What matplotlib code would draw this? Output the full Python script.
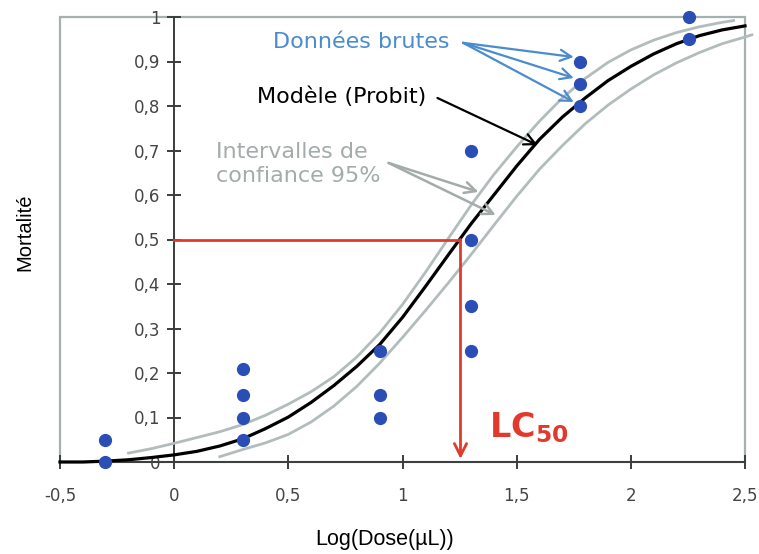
import matplotlib
matplotlib.use("Agg")
import matplotlib.pyplot as plt
from matplotlib.patches import Rectangle

# Observed mortality per log10 dose
log_dose = [-0.301, -0.301, 0.301, 0.301, 0.301, 0.301, 0.903, 0.903, 0.903,
            1.301, 1.301, 1.301, 1.301, 1.778, 1.778, 1.778, 2.255, 2.255]
mortality = [0.05, 0.00, 0.21, 0.15, 0.10, 0.05, 0.25, 0.15, 0.10,
             0.70, 0.50, 0.35, 0.25, 0.90, 0.85, 0.80, 1.00, 0.95]

# Probit model curve
model_x = [-0.5, -0.4, -0.3, -0.2, -0.1, 0.0, 0.1, 0.2, 0.3, 0.4, 0.5, 0.6, 0.7,
           0.8, 0.9, 1.0, 1.1, 1.2, 1.3, 1.4, 1.5, 1.6, 1.7, 1.8, 1.9, 2.0, 2.1,
           2.2, 2.3, 2.4, 2.5]
model_y = [0.000, 0.000, 0.002, 0.005, 0.010, 0.016, 0.024, 0.036, 0.052, 0.075,
           0.101, 0.134, 0.172, 0.215, 0.264, 0.325, 0.394, 0.465, 0.535, 0.600,
           0.665, 0.725, 0.775, 0.818, 0.857, 0.889, 0.917, 0.940, 0.958, 0.971,
           0.980]

# 95% confidence bounds
upper_x = [-0.2, -0.1, 0.0, 0.1, 0.2, 0.3, 0.4, 0.5, 0.6, 0.7, 0.8, 0.9, 1.0, 1.1,
           1.2, 1.3, 1.4, 1.5, 1.6, 1.7, 1.8, 1.9, 2.0, 2.1, 2.2, 2.3, 2.4, 2.45]
upper_y = [0.020, 0.030, 0.042, 0.055, 0.068, 0.084, 0.105, 0.130, 0.158, 0.192,
           0.236, 0.290, 0.354, 0.426, 0.502, 0.577, 0.646, 0.708, 0.766, 0.818,
           0.862, 0.898, 0.926, 0.948, 0.965, 0.978, 0.988, 0.992]
lower_x = [0.2, 0.3, 0.4, 0.5, 0.6, 0.7, 0.8, 0.9, 1.0, 1.1, 1.2, 1.3, 1.4, 1.5,
           1.6, 1.7, 1.8, 1.9, 2.0, 2.1, 2.2, 2.3, 2.4, 2.5, 2.53]
lower_y = [0.012, 0.028, 0.043, 0.062, 0.090, 0.126, 0.170, 0.222, 0.280, 0.340,
           0.402, 0.466, 0.532, 0.597, 0.658, 0.711, 0.760, 0.802, 0.838, 0.870,
           0.897, 0.920, 0.940, 0.955, 0.960]

lc50 = 1.254

x_ticks = [-0.5, 0.0, 0.5, 1.0, 1.5, 2.0, 2.5]
x_tick_labels = ["-0,5", "0", "0,5", "1", "1,5", "2", "2,5"]
y_ticks = [0.0, 0.1, 0.2, 0.3, 0.4, 0.5, 0.6, 0.7, 0.8, 0.9, 1.0]
y_tick_labels = ["0", "0,1", "0,2", "0,3", "0,4", "0,5", "0,6", "0,7", "0,8", "0,9", "1"]

AXIS = "#3c3c3c"
FRAME = "#a7b0b0"
BAND = "#b3bcbc"
DOT = "#2b4db6"
BLUE_TXT = "#4a8ccc"
GRAY_TXT = "#a3abab"
RED = "#e2392c"

fig = plt.figure(figsize=(7.59, 5.54), dpi=100)
ax = fig.add_axes([60 / 759, 92 / 554, 685 / 759, 445 / 554])
ax.set_xlim(-0.5, 2.5)
ax.set_ylim(0, 1)

# outer frame
ax.add_patch(Rectangle((0, 0), 1, 1, transform=ax.transAxes, fill=False,
                       ec=FRAME, lw=1.6, clip_on=False, zorder=0))
for s in ("top", "right"):
    ax.spines[s].set_visible(False)
ax.spines["left"].set_position(("data", 0))
for s in ("left", "bottom"):
    ax.spines[s].set_color(AXIS)
    ax.spines[s].set_linewidth(1.4)
    ax.spines[s].set_zorder(1)

ax.set_xticks(x_ticks)
ax.set_xticklabels(x_tick_labels)
ax.set_yticks(y_ticks)
ax.set_yticklabels(y_tick_labels)
ax.tick_params(axis="both", direction="inout", length=10, width=1.4,
               color=AXIS, labelcolor="#444444", labelsize=12)
ax.tick_params(axis="x", pad=13)
ax.tick_params(axis="y", pad=5)
for lab in ax.get_xticklabels() + ax.get_yticklabels():
    lab.set_family("DejaVu Sans")

# confidence bounds and model
ax.plot(upper_x, upper_y, color=BAND, lw=2.0, zorder=2, solid_joinstyle="round")
ax.plot(lower_x, lower_y, color=BAND, lw=2.0, zorder=2, clip_on=False,
        solid_joinstyle="round")
ax.plot(model_x, model_y, color="black", lw=2.3, zorder=3, clip_on=False,
        solid_joinstyle="round")

# LC50 construction
ax.plot([0, lc50], [0.5, 0.5], color=RED, lw=2.0, zorder=4)
ax.annotate("", xy=(lc50, 0.007), xytext=(lc50, 0.5),
            arrowprops=dict(arrowstyle="->", color=RED, lw=2.0,
                            mutation_scale=22, shrinkA=0, shrinkB=0), zorder=4)

# raw data
ax.plot(log_dose, mortality, "o", color=DOT, ms=8.5, mec=DOT, zorder=5,
        clip_on=False)

# annotations
ax.text(0.434, 0.944, "Données brutes", color=BLUE_TXT, fontsize=16,
        va="center", ha="left")
for tx, ty in [(1.75, 0.91), (1.75, 0.863), (1.75, 0.809)]:
    ax.annotate("", xy=(tx, ty), xytext=(1.265, 0.942),
                arrowprops=dict(arrowstyle="->", color=BLUE_TXT, lw=1.6,
                                mutation_scale=20, shrinkA=0, shrinkB=0))

ax.text(0.364, 0.820, "Modèle (Probit)", color="black", fontsize=16,
        va="center", ha="left")
ax.annotate("", xy=(1.592, 0.712), xytext=(1.153, 0.818),
            arrowprops=dict(arrowstyle="->", color="black", lw=1.6,
                            mutation_scale=20, shrinkA=0, shrinkB=0))

ax.text(0.184, 0.720, "Intervalles de\nconfiance 95%", color=GRAY_TXT,
        fontsize=16, va="top", ha="left", linespacing=1.3)
for tx, ty in [(1.333, 0.607), (1.408, 0.555)]:
    ax.annotate("", xy=(tx, ty), xytext=(0.939, 0.672),
                arrowprops=dict(arrowstyle="->", color=GRAY_TXT, lw=1.8,
                                mutation_scale=20, shrinkA=0, shrinkB=0))

ax.text(1.377, 0.056, r"$\mathbf{LC}_{\mathbf{50}}$", color=RED, fontsize=24,
        va="baseline", ha="left")

fig.text(25 / 759, 1 - 232 / 554, "Mortalité", rotation=90, ha="center",
         va="center", fontsize=14.5, family="Liberation Sans")
fig.text(385 / 759, 1 - 540 / 554, "Log(Dose(µL))", ha="center", va="center",
         fontsize=15.5, family="Liberation Sans")

fig.savefig("out.png", dpi=100, facecolor="white")
